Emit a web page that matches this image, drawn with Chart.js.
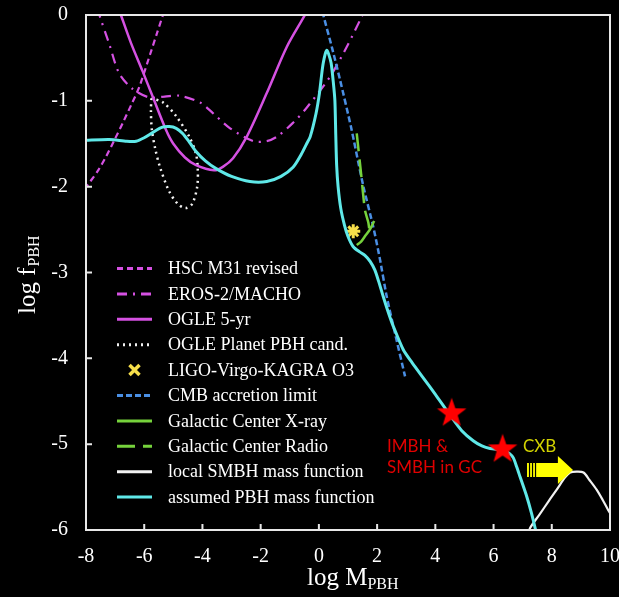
<!DOCTYPE html>
<html>
<head>
<meta charset="utf-8">
<script src="https://cdn.jsdelivr.net/npm/chart.js@4.4.1/dist/chart.umd.min.js"></script>
<style>
  html, body { margin: 0; padding: 0; background: #000; }
  canvas { display: block; }
</style>
</head>
<body>
<canvas id="chart" width="619" height="597"></canvas>
<script>
// axis ticks
var xTicks = [-8, -6, -4, -2, 0, 2, 4, 6, 8, 10];
var yTicks = [0, -1, -2, -3, -4, -5, -6];

// constraint curves, [log M, log f]
var hscM31 = [[-8.05,-2.03],[-7.6,-1.82],[-7.31,-1.65],[-7.0,-1.44],[-6.74,-1.26],[-6.45,-1.05],[-6.17,-0.84],[-5.8,-0.46],[-5.55,-0.2],[-5.3,0.06]];
var erosMacho = [[-7.6,0.08],[-7.54,0],[-7.2,-0.34],[-6.86,-0.68],[-6.4,-0.86],[-5.83,-0.96],[-5.3,-0.95],[-4.8,-0.94],[-4.08,-1.02],[-3.65,-1.14],[-3.05,-1.32],[-2.25,-1.47],[-1.8,-1.47],[-1.45,-1.42],[-0.9,-1.26],[-0.42,-1.08],[0.38,-0.72],[0.96,-0.37],[1.47,-0.02],[1.55,0.05]];
var ogle5yr = [[-6.85,0.05],[-6.8,0],[-6.45,-0.33],[-6.05,-0.66],[-5.71,-0.95],[-5.25,-1.34],[-5.0,-1.5],[-4.6,-1.66],[-4.22,-1.75],[-3.6,-1.81],[-3.3,-1.77],[-2.95,-1.67],[-2.48,-1.42],[-1.79,-0.91],[-1.1,-0.37],[-0.48,0],[-0.42,0.05]];
var oglePlanet = [[-5.75,-0.97],[-5.77,-1.1],[-5.74,-1.33],[-5.62,-1.56],[-5.46,-1.77],[-5.15,-2.05],[-4.85,-2.2],[-4.58,-2.25],[-4.35,-2.2],[-4.18,-2.0],[-4.16,-1.8],[-4.22,-1.62],[-4.45,-1.42],[-4.9,-1.18],[-5.35,-1.02],[-5.75,-0.97]];
var ligoO3 = [[1.18,-2.52]];
var cmbAccretion = [[0.12,0.04],[0.15,0],[0.45,-0.38],[0.73,-0.76],[1.1,-1.3],[1.53,-2.0],[1.87,-2.47],[2.1,-2.85],[2.33,-3.28],[2.67,-3.79],[2.96,-4.21]];
var gcXray = [[1.3,-2.68],[1.45,-2.64],[1.6,-2.57],[1.75,-2.5],[1.9,-2.4]];
var gcRadio = [[1.3,-1.38],[1.45,-1.85],[1.58,-2.27],[1.7,-2.42],[1.76,-2.58]];
var localSmbh = [[7.22,-6.05],[7.25,-5.98],[7.6,-5.81],[7.9,-5.66],[8.17,-5.53],[8.45,-5.39],[8.63,-5.33],[8.85,-5.32],[9.09,-5.33],[9.3,-5.42],[9.54,-5.53],[9.75,-5.65],[9.94,-5.77],[10.0,-5.8]];
var assumedPbh = [[-8.05,-1.46],[-7.2,-1.45],[-6.6,-1.47],[-6.28,-1.47],[-6.0,-1.43],[-5.71,-1.37],[-5.4,-1.31],[-5.14,-1.3],[-4.9,-1.32],[-4.68,-1.38],[-4.45,-1.48],[-4.22,-1.59],[-3.9,-1.7],[-3.53,-1.79],[-3.0,-1.88],[-2.37,-1.94],[-1.79,-1.94],[-1.3,-1.88],[-0.88,-1.77],[-0.6,-1.62],[-0.42,-1.5],[-0.3,-1.42],[-0.1,-1.15],[0.02,-0.91],[0.1,-0.68],[0.15,-0.56],[0.22,-0.45],[0.27,-0.41],[0.33,-0.45],[0.42,-0.56],[0.5,-0.8],[0.55,-1.0],[0.58,-1.4],[0.61,-1.75],[0.66,-2.0],[0.75,-2.25],[0.88,-2.45],[1.0,-2.58],[1.18,-2.7],[1.4,-2.76],[1.58,-2.8],[1.76,-2.87],[1.92,-2.97],[2.05,-3.1],[2.21,-3.28],[2.4,-3.48],[2.56,-3.63],[2.9,-3.9],[3.2,-4.05],[3.59,-4.23],[4.0,-4.42],[4.5,-4.66],[4.9,-4.84],[5.3,-4.96],[5.6,-5.02],[5.88,-5.05],[6.34,-5.07],[6.55,-5.11],[6.68,-5.16],[6.8,-5.27],[6.91,-5.38],[7.14,-5.61],[7.3,-5.8],[7.43,-5.98],[7.5,-6.1]];
var bhStars = [[4.56,-4.64],[6.31,-5.06]];

function pts(arr) { return arr.map(function(p) { return {x: p[0], y: p[1]}; }); }

// red five pointed star used as point style
var starImg = document.createElement('canvas');
starImg.width = 32; starImg.height = 32;
(function() {
  var c = starImg.getContext('2d');
  c.fillStyle = '#ff0000';
  c.beginPath();
  for (var i = 0; i < 10; i++) {
    var r = i % 2 ? 6.3 : 15.5;
    var a = -Math.PI / 2 + i * Math.PI / 5;
    c.lineTo(16 + r * Math.cos(a), 16 + r * Math.sin(a));
  }
  c.closePath();
  c.fill();
})();

function line(label, data, color, width, dash, order, tension) {
  return {
    label: label, data: pts(data), showLine: true, borderColor: color, backgroundColor: color,
    borderWidth: width, borderDash: dash, pointRadius: 0, tension: tension, order: order, fill: false
  };
}

var datasets = [
  line('HSC M31 revised', hscM31, '#d551e2', 2.2, [6, 4], 5, 0.2),
  line('EROS-2/MACHO', erosMacho, '#d551e2', 2.2, [10, 6, 2, 6], 5, 0.3),
  line('OGLE 5-yr', ogle5yr, '#d551e2', 2.5, [], 5, 0.3),
  line('OGLE Planet PBH cand.', oglePlanet, '#f2f2f2', 2.5, [2, 4], 5, 0.3),
  { label: 'LIGO-Virgo-KAGRA O3', data: pts(ligoO3), showLine: false, pointStyle: 'star', pointRadius: 7,
    borderColor: '#f6de4a', backgroundColor: '#f6de4a', pointBorderWidth: 3, order: 2, legendStyle: 'crossRot' },
  line('CMB accretion limit', cmbAccretion, '#4a8fe4', 2.5, [6, 3], 4, 0.2),
  line('Galactic Center X-ray', gcXray, '#76d23c', 2.5, [], 3, 0.3),
  line('Galactic Center Radio', gcRadio, '#76d23c', 2.5, [18, 8], 3, 0.2),
  line('local SMBH mass function', localSmbh, '#f2f2f2', 2.2, [], 3, 0.3),
  line('assumed PBH mass function', assumedPbh, '#5fe8e8', 3, [], 1, 0.25),
  { data: pts(bhStars), showLine: false, pointStyle: starImg, pointRadius: 15, order: 0, noLegend: true }
];

var serif = '"Liberation Serif", "Times New Roman", serif';

var legendPlugin = {
  id: 'insideLegend',
  afterDraw: function(chart) {
    var ctx = chart.ctx, a = chart.chartArea;
    var items = chart.data.datasets.filter(function(d) { return !d.noLegend; });
    ctx.save();
    ctx.font = '18px ' + serif;
    ctx.textBaseline = 'middle';
    items.forEach(function(d, i) {
      var y = a.top + 253.5 + i * 25.4;
      var x0 = a.left + 31, x1 = a.left + 66;
      ctx.strokeStyle = d.borderColor;
      if (d.legendStyle === 'crossRot') {
        ctx.lineWidth = 3.5;
        ctx.setLineDash([]);
        var cx = (x0 + x1) / 2, s = 5;
        ctx.beginPath();
        ctx.moveTo(cx - s, y - s); ctx.lineTo(cx + s, y + s);
        ctx.moveTo(cx + s, y - s); ctx.lineTo(cx - s, y + s);
        ctx.stroke();
      } else {
        ctx.lineWidth = 3;
        ctx.setLineDash(d.borderDash || []);
        ctx.beginPath();
        ctx.moveTo(x0, y); ctx.lineTo(x1, y);
        ctx.stroke();
      }
      ctx.setLineDash([]);
      ctx.fillStyle = '#ffffff';
      ctx.fillText(d.label, a.left + 82, y + 1);
    });
    ctx.restore();
  }
};

var decorPlugin = {
  id: 'decor',
  afterDatasetsDraw: function(chart) {
    var ctx = chart.ctx, a = chart.chartArea;
    var xs = chart.scales.x, ys = chart.scales.y;
    ctx.save();
    // frame and inward ticks
    ctx.strokeStyle = '#e8e8e8';
    ctx.lineWidth = 2;
    ctx.strokeRect(a.left, a.top, a.right - a.left, a.bottom - a.top);
    ctx.beginPath();
    xTicks.forEach(function(v) {
      var px = xs.getPixelForValue(v);
      ctx.moveTo(px, a.bottom); ctx.lineTo(px, a.bottom - 6);
    });
    yTicks.forEach(function(v) {
      var py = ys.getPixelForValue(v);
      ctx.moveTo(a.left, py); ctx.lineTo(a.left + 6, py);
    });
    ctx.stroke();

    // tick labels
    ctx.fillStyle = '#ffffff';
    ctx.font = '20px ' + serif;
    ctx.textBaseline = 'middle';
    ctx.textAlign = 'center';
    xTicks.forEach(function(v) {
      ctx.fillText(String(v), xs.getPixelForValue(v), a.bottom + 27);
    });
    ctx.textAlign = 'right';
    yTicks.forEach(function(v) {
      ctx.fillText(String(v), a.left - 18, ys.getPixelForValue(v));
    });
    ctx.textAlign = 'left';

    // annotations
    ctx.font = '17px Lato, "Open Sans", sans-serif';
    ctx.textBaseline = 'alphabetic';
    ctx.fillStyle = '#e00000';
    ctx.fillText('IMBH &', xs.getPixelForValue(2.34), ys.getPixelForValue(-5.09));
    ctx.fillText('SMBH in GC', xs.getPixelForValue(2.34), ys.getPixelForValue(-5.34));
    ctx.fillStyle = '#d2d200';
    ctx.fillText('CXB', xs.getPixelForValue(7.01), ys.getPixelForValue(-5.09));

    // CXB arrow
    var ax0 = xs.getPixelForValue(7.15), axh = xs.getPixelForValue(8.21), ax1 = xs.getPixelForValue(8.73);
    var ay = ys.getPixelForValue(-5.3);
    ctx.fillStyle = '#ffff00';
    ctx.beginPath();
    ctx.moveTo(ax0, ay - 7); ctx.lineTo(axh, ay - 7); ctx.lineTo(axh, ay - 14);
    ctx.lineTo(ax1, ay); ctx.lineTo(axh, ay + 14); ctx.lineTo(axh, ay + 7);
    ctx.lineTo(ax0, ay + 7); ctx.closePath();
    ctx.fill();
    ctx.strokeStyle = '#000';
    ctx.lineWidth = 1.2;
    ctx.beginPath();
    [2.5, 5.5, 8.5].forEach(function(o) { ctx.moveTo(ax0 + o, ay - 8); ctx.lineTo(ax0 + o, ay + 8); });
    ctx.stroke();

    // axis titles with subscripts
    ctx.fillStyle = '#ffffff';
    ctx.textBaseline = 'alphabetic';
    ctx.font = '25px ' + serif;
    var main = 'log M', sub = 'PBH';
    ctx.fillText(main, 307, 585);
    var w = ctx.measureText(main).width;
    ctx.font = '16px ' + serif;
    ctx.fillText(sub, 307 + w, 589);

    ctx.translate(35, 314);
    ctx.rotate(-Math.PI / 2);
    ctx.font = '25px ' + serif;
    ctx.fillText('log f', 0, 0);
    w = ctx.measureText('log f').width;
    ctx.font = '16px ' + serif;
    ctx.fillText('PBH', w + 1, 4);
    ctx.restore();
  }
};

new Chart(document.getElementById('chart').getContext('2d'), {
  type: 'scatter',
  data: { datasets: datasets },
  options: {
    responsive: false,
    animation: false,
    layout: { autoPadding: false, padding: { top: 15, right: 9, left: 0, bottom: 0 } },
    plugins: { legend: { display: false }, tooltip: { enabled: false } },
    scales: {
      x: {
        type: 'linear', min: -8, max: 10,
        grid: { display: false, drawTicks: false },
        border: { display: false },
        afterBuildTicks: function(s) { s.ticks = xTicks.map(function(v) { return {value: v}; }); },
        afterFit: function(s) { s.height = 67; },
        ticks: { display: false }
      },
      y: {
        type: 'linear', min: -6, max: 0,
        grid: { display: false, drawTicks: false },
        border: { display: false },
        afterBuildTicks: function(s) { s.ticks = yTicks.map(function(v) { return {value: v}; }); },
        afterFit: function(s) { s.width = 86; },
        ticks: { display: false }
      }
    }
  },
  plugins: [legendPlugin, decorPlugin]
});
</script>
</body>
</html>
